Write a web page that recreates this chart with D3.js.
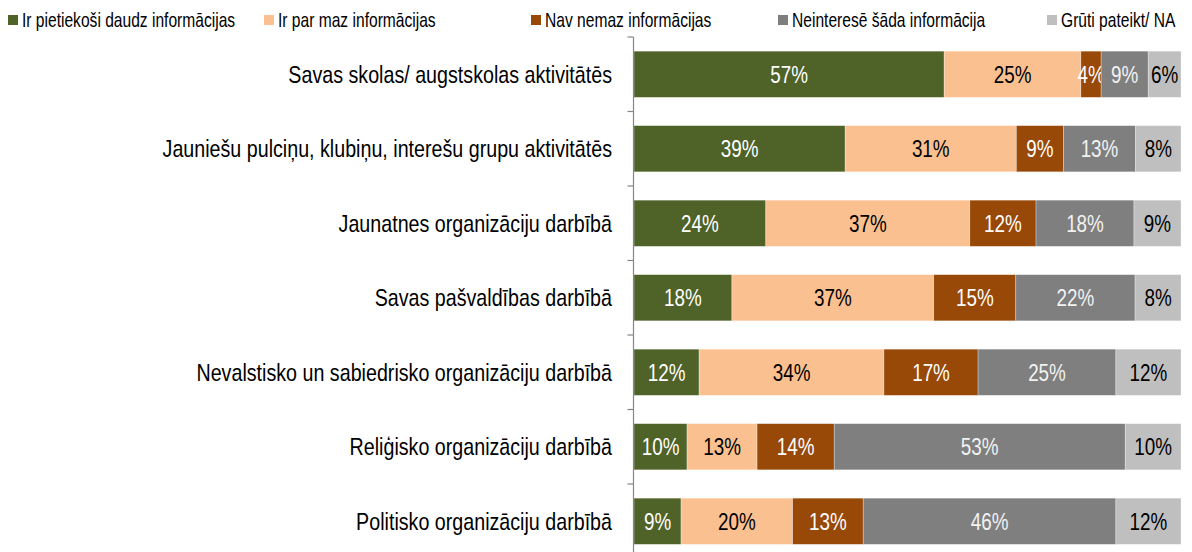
<!DOCTYPE html>
<meta charset="utf-8">
<style>
  body {
    margin: 0;
    overflow: hidden;
    background: #fff;
  }
  text {
    font-family: "Liberation Sans", Arial, sans-serif;
  }
</style>
<body>
</body>
<script src="https://cdn.jsdelivr.net/npm/d3@7"></script>
<script>

var width = 1192,
    height = 552,
    squeeze = 0.82;   // no Arial Narrow here, so squeeze Liberation Sans

var categories = [
  "Savas skolas/ augstskolas aktivitātēs",
  "Jauniešu pulciņu, klubiņu, interešu grupu aktivitātēs",
  "Jaunatnes organizāciju darbībā",
  "Savas pašvaldības darbībā",
  "Nevalstisko un sabiedrisko organizāciju darbībā",
  "Reliģisko organizāciju darbībā",
  "Politisko organizāciju darbībā"
];

var seriesNames = [
  "Ir pietiekoši daudz informācijas",
  "Ir par maz informācijas",
  "Nav nemaz informācijas",
  "Neinteresē šāda informācija",
  "Grūti pateikt/ NA"
];

// values per series, one per category (percent)
var enough    = [56.7, 38.6, 24.1, 17.9, 11.9,  9.7,  8.6];
var tooLittle = [25.0, 31.3, 37.3, 36.9, 33.8, 12.8, 20.4];
var none      = [ 3.7,  8.6, 12.1, 15.0, 17.2, 14.1, 12.9];
var notInt    = [ 8.6, 13.2, 17.9, 21.8, 25.2, 53.2, 46.2];
var hardSay   = [ 6.0,  8.3,  8.6,  8.4, 11.9, 10.2, 11.9];

var colors = ["#4f6228", "#fac090", "#984807", "#7f7f7f", "#bfbfbf"];
var labelColors = ["#fff", "#000", "#fff", "#f2f2f2", "#000"];

var allSeries = [enough, tooLittle, none, notInt, hardSay];

var table = categories.map(function(c, i) {
  var row = {category: c};
  seriesNames.forEach(function(s, j) { row[s] = allSeries[j][i]; });
  return row;
});

var stacked = d3.stack().keys(seriesNames)(table);

var x = d3.scaleLinear().domain([0, 100]).range([634, 1181]);
var y = d3.scaleBand().domain(categories).range([37, 558.5]).paddingInner(0.38).paddingOuter(0.19);

var svg = d3.select("body").append("svg")
    .attr("width", width)
    .attr("height", height);

function place(px, py, k) {
  return "translate(" + px + "," + py + ") scale(" + (k || squeeze) + ",1)";
}

// bars
var groups = svg.append("g").selectAll("g")
    .data(stacked)
  .enter().append("g")
    .attr("fill", function(d, i) { return colors[i]; });

groups.selectAll("rect")
    .data(function(d) { return d; })
  .enter().append("rect")
    .attr("x", function(d) { return x(d[0]); })
    .attr("y", function(d) { return y(d.data.category); })
    .attr("width", function(d) { return x(d[1]) - x(d[0]); })
    .attr("height", y.bandwidth())
    .attr("stroke", "rgba(255,255,255,0.5)")
    .attr("stroke-width", 0.6);

groups.each(function(s, i) {
  d3.select(this).selectAll("text")
      .data(s)
    .enter().append("text")
      .attr("transform", function(d) {
        return place((x(d[0]) + x(d[1])) / 2, y(d.data.category) + y.bandwidth() / 2);
      })
      .attr("dy", "0.36em")
      .attr("text-anchor", "middle")
      .attr("fill", labelColors[i])
      .style("font-size", "23px")
      .text(function(d) { return Math.round(d[1] - d[0]) + "%"; });
});

// category axis
var axis = svg.append("g")
    .attr("transform", "translate(633.5,0)");

axis.append("line")
    .attr("y1", 37)
    .attr("y2", 558.5)
    .attr("stroke", "#868686")
    .attr("stroke-width", 1.2);

var step = y.step();
axis.selectAll(".tick")
    .data(d3.range(categories.length + 1))
  .enter().append("line")
    .attr("x1", -6)
    .attr("x2", 0)
    .attr("y1", function(i) { return 37 + i * step; })
    .attr("y2", function(i) { return 37 + i * step; })
    .attr("stroke", "#868686")
    .attr("stroke-width", 1.2);

svg.append("g").selectAll("text")
    .data(categories)
  .enter().append("text")
    .attr("transform", function(d) { return place(612, y(d) + y.bandwidth() / 2); })
    .attr("dy", "0.36em")
    .attr("text-anchor", "end")
    .attr("fill", "#000")
    .style("font-size", "24px")
    .text(function(d) { return d; });

// legend
var legendX = [8, 264, 531, 778, 1047];
var legend = svg.append("g").selectAll("g")
    .data(seriesNames)
  .enter().append("g")
    .attr("transform", function(d, i) { return "translate(" + legendX[i] + ",20)"; });

legend.append("rect")
    .attr("y", -5)
    .attr("width", 10)
    .attr("height", 10)
    .attr("fill", function(d, i) { return colors[i]; });

legend.append("text")
    .attr("transform", place(14, 0, 0.78))
    .attr("dy", "0.36em")
    .style("font-size", "20px")
    .text(function(d) { return d; });

</script>
